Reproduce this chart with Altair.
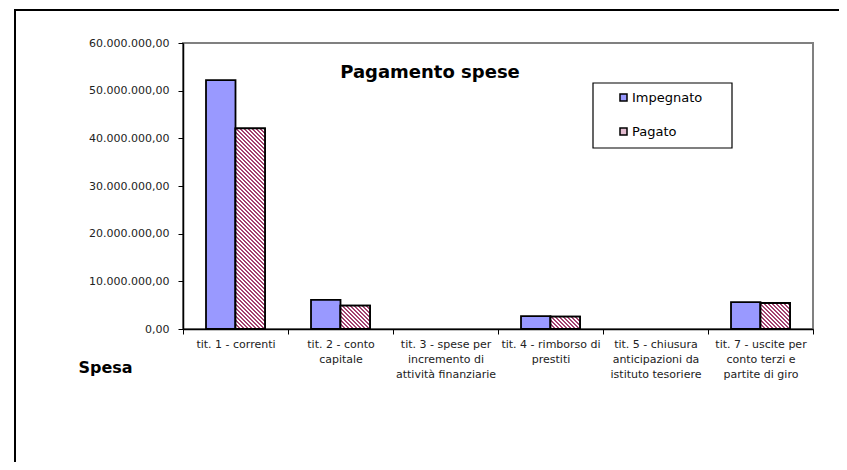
import altair as alt
import pandas as pd

# ---- data ----
categories = [
    "tit. 1 - correnti",
    "tit. 2 - conto\ncapitale",
    "tit. 3 - spese per\nincremento di\nattività finanziarie",
    "tit. 4 - rimborso di\nprestiti",
    "tit. 5 - chiusura\nanticipazioni da\nistituto tesoriere",
    "tit. 7 - uscite per\nconto terzi e\npartite di giro",
]
series = ["Impegnato", "Pagato"]
impegnato = [52200000, 6100000, 0, 2700000, 0, 5650000]
pagato = [42100000, 4900000, 0, 2600000, 0, 5450000]
y_ticks = [0, 10000000, 20000000, 30000000, 40000000, 50000000, 60000000]
chart_title = "Pagamento spese"
x_title = "Spesa"

rows = []
for c, a, b in zip(categories, impegnato, pagato):
    rows.append({"categoria": c, "serie": "Impegnato", "valore": a})
    rows.append({"categoria": c, "serie": "Pagato", "valore": b})
df = pd.DataFrame(rows)

# ---- layout ----
W, H = 630, 286
Y_MAX = 60000000
OFF_PAD = 0.78
FONT = "DejaVu Sans"

x_enc = alt.X(
    "categoria:N", sort=categories, scale=alt.Scale(domain=categories, padding=0),
    axis=alt.Axis(
        title=x_title, titleFont=FONT, titleFontSize=16, titleFontWeight="bold",
        titleColor="black", titleX=-105, titleY=38, titleAlign="left",
        titleBaseline="middle", titleAngle=0,
        labelAngle=0, labelFont=FONT, labelFontSize=11, labelColor="#222",
        labelLineHeight=15, labelExpr="split(datum.label, '\\n')",
        labelPadding=4, labelBaseline="top", labelLimit=0,
        tickBand="extent", tickSize=5, tickColor="black", tickWidth=1,
        domainColor="black", domainWidth=1.5, grid=False,
    ),
)
xoff_enc = alt.XOffset(
    "serie:N", sort=series,
    scale=alt.Scale(domain=series, paddingInner=0, paddingOuter=OFF_PAD),
)
y_enc = alt.Y(
    "valore:Q", scale=alt.Scale(domain=[0, Y_MAX], nice=False),
    axis=alt.Axis(
        title=None, values=y_ticks, grid=False,
        labelExpr="replace(format(datum.value, ','), regexp(',', 'g'), '.') + ',00'",
        labelFont=FONT, labelFontSize=11, labelColor="#222", labelPadding=9,
        tickSize=5, tickColor="black", tickWidth=1,
        domainColor="black", domainWidth=1.5,
    ),
)

base = alt.Chart(df).transform_filter(alt.datum.valore > 0).mark_bar(
    stroke="black", strokeWidth=1.8
).encode(
    x=x_enc, xOffset=xoff_enc, y=y_enc,
    fill=alt.Fill(
        "serie:N", sort=series,
        scale=alt.Scale(domain=series, range=["#9999FF", "#e3bcd0"]),
        legend=alt.Legend(
            title=None, orient="none", legendX=434, legendY=48,
            direction="vertical", symbolType="square", symbolSize=49,
            symbolStrokeColor="black", symbolStrokeWidth=1.5,
            labelFont=FONT, labelFontSize=13, labelColor="black",
            labelOffset=2, rowPadding=20, padding=0,
        ),
    ),
)


def hatch(w, h, period=4.0, line=1.6, dark="#a3416f", light="#ffffff"):
    L = w + h
    k = L / (w * w + h * h)
    stops = []
    i = 0
    while i * period < L:
        a = i * period / L
        b = min((i * period + line) / L, 1.0)
        c = min((i + 1) * period / L, 1.0)
        stops += [
            {"offset": round(a, 5), "color": dark},
            {"offset": round(b, 5), "color": dark},
            {"offset": round(b, 5), "color": light},
            {"offset": round(c, 5), "color": light},
        ]
        i += 1
    return {"gradient": "linear", "x1": 0, "y1": 1,
            "x2": round(k * w, 5), "y2": round(1 - k * h, 5), "stops": stops}


bar_w = (W / len(categories)) / (2 + 2 * OFF_PAD)
overlays = []
for c, v in zip(categories, pagato):
    if v <= 0:
        continue
    h = v / Y_MAX * H
    overlays.append(
        alt.Chart(df).transform_filter(
            (alt.datum.serie == "Pagato") & (alt.datum.categoria == c)
        ).mark_bar(stroke="black", strokeWidth=1.8).encode(
            x=x_enc, xOffset=xoff_enc, y=y_enc,
            fill=alt.value(hatch(bar_w, h)),
        )
    )

one = pd.DataFrame({"k": [0]})
title_txt = alt.Chart(one).mark_text(
    font=FONT, fontSize=18, fontWeight="bold", color="black",
    align="center", baseline="middle",
).encode(x=alt.value(247), y=alt.value(30), text=alt.value(chart_title))

legend_box = alt.Chart(one).mark_rect(
    fill="white", stroke="black", strokeWidth=1.2
).encode(x=alt.value(410), x2=alt.value(549), y=alt.value(40), y2=alt.value(105))

frame_v = alt.Chart(one).mark_rule(color="black", strokeWidth=2).encode(
    x=alt.value(-168), y=alt.value(-34), y2=alt.value(600)
)
frame_h = alt.Chart(one).mark_rule(color="black", strokeWidth=2).encode(
    x=alt.value(-169), x2=alt.value(900), y=alt.value(-33)
)

chart = alt.layer(
    frame_v, frame_h, legend_box, base, *overlays, title_txt
).properties(
    width=W, height=H,
    autosize=alt.AutoSizeParams(type="none"),
    padding={"left": 175, "top": 35, "right": 26, "bottom": 133},
    background="white",
).configure_view(stroke="#808080", strokeWidth=2)

chart.save("out.html", embed_options={"renderer": "svg", "actions": False})
